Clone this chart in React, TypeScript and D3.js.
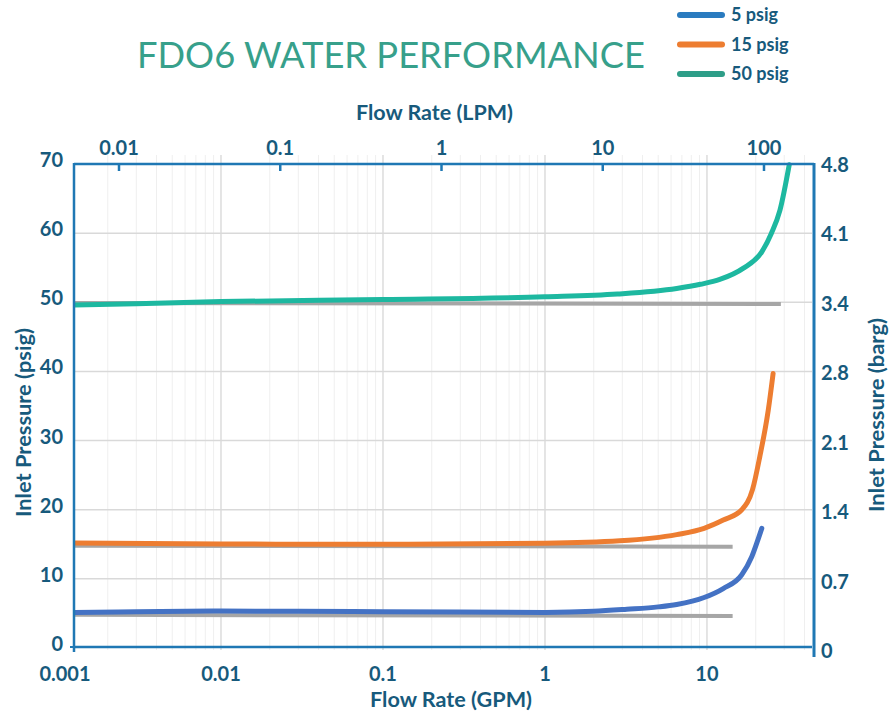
import React, { useEffect, useRef } from 'react';
import * as d3 from 'd3';

// 5 psig set point
const gpm5 = [0.00124, 0.003, 0.01, 0.03, 0.1, 0.3, 1, 2, 3.2, 5, 6.5, 9.6, 12.6, 16.4, 18.9, 20.6, 21.8];
const psi5 = [5.15, 5.25, 5.35, 5.3, 5.25, 5.2, 5.15, 5.3, 5.6, 5.95, 6.3, 7.3, 8.6, 10.6, 13.2, 15.6, 17.3];

// 15 psig set point
const gpm15 = [0.00124, 0.01, 0.1, 1, 2.9, 6.5, 9.6, 12.6, 16.4, 19.1, 21.2, 23.9, 25.6];
const psi15 = [15.2, 15.05, 15.0, 15.15, 15.5, 16.4, 17.3, 18.5, 20.0, 22.9, 27.7, 34.4, 39.7];

// 50 psig set point
const gpm50 = [0.00124, 0.003, 0.01, 0.1, 1, 2.8, 6.5, 9.1, 12, 16.7, 21.8, 25, 28.2, 32.2];
const psi50 = [49.6, 49.8, 50.1, 50.4, 50.8, 51.2, 52.0, 52.6, 53.3, 54.9, 57.3, 60.0, 63.3, 69.9];

// grey reference lines
const refGpm = [
  [0.00124, 14.4],
  [0.00124, 14.4],
  [0.00124, 28.6],
];
const refPsi = [
  [4.8, 4.63],
  [14.8, 14.65],
  [49.9, 49.75],
];

const psiTicks = [0, 10, 20, 30, 40, 50, 60, 70];
const bargLabels = ['0', '0.7', '1.4', '2.1', '2.8', '3.4', '4.1', '4.8'];
const gpmTicks = [0.001, 0.01, 0.1, 1, 10];
const lpmTicks = [0.01, 0.1, 1, 10, 100];

const seriesNames = ['5 psig', '15 psig', '50 psig'];
const lineColors = ['#4472c4', '#ed7d31', '#1db8a0'];
const legendColors = ['#2a7bbf', '#ed7d31', '#2e9e88'];

const W = 889;
const H = 713;
const FONT = 'Lato, "Open Sans", sans-serif';
const TXT = '#175a7c';
const AXIS = '#1f78b4';

const App: React.FC = () => {
  const svgRef = useRef<SVGSVGElement>(null);

  useEffect(() => {
    if (!svgRef.current) return;
    const svg = d3.select(svgRef.current);
    svg.selectAll('*').remove();

    const left = 74;
    const right = 812;
    const top = 164;
    const bottom = 648;

    const x = d3.scaleLog().domain([0.001, 44.5]).range([59, right]);
    const xTop = d3.scaleLog().domain([0.01, 100]).range([119, 764]);
    const y = d3.scaleLinear().domain([0, 70]).range([bottom, top]);
    const yRight = d3.scaleLinear().domain([0, 70]).range([651, 165]);

    // vertical grid (GPM decades + minors)
    const minors: number[] = [];
    [0.001, 0.01, 0.1, 1, 10].forEach((d) => {
      for (let k = 2; k <= 9; k++) {
        const v = d * k;
        if (v < 44.5) minors.push(v);
      }
    });
    svg
      .append('g')
      .selectAll('line')
      .data(minors)
      .enter()
      .append('line')
      .attr('x1', (d) => x(d))
      .attr('x2', (d) => x(d))
      .attr('y1', 155)
      .attr('y2', bottom + 2)
      .attr('stroke', '#efefef')
      .attr('stroke-width', 1);
    svg
      .append('g')
      .selectAll('line')
      .data(gpmTicks.slice(1))
      .enter()
      .append('line')
      .attr('x1', (d) => x(d))
      .attr('x2', (d) => x(d))
      .attr('y1', 155)
      .attr('y2', bottom + 2)
      .attr('stroke', '#dcdcdc')
      .attr('stroke-width', 1.5);

    // horizontal grid
    svg
      .append('g')
      .selectAll('line')
      .data(psiTicks.slice(1, -1))
      .enter()
      .append('line')
      .attr('x1', left)
      .attr('x2', right)
      .attr('y1', (d) => y(d))
      .attr('y2', (d) => y(d))
      .attr('stroke', '#d9d9d9')
      .attr('stroke-width', 1.5);

    svg
      .append('clipPath')
      .attr('id', 'plot-clip')
      .append('rect')
      .attr('x', left)
      .attr('y', top - 4)
      .attr('width', right - left)
      .attr('height', bottom - top + 4);

    const line = d3
      .line<[number, number]>()
      .x((d) => x(d[0]))
      .y((d) => y(d[1]))
      .curve(d3.curveMonotoneX);

    const plot = svg.append('g').attr('clip-path', 'url(#plot-clip)');

    // grey reference lines
    refGpm.forEach((g, i) => {
      const pts = g.map((v, j) => [v, refPsi[i][j]] as [number, number]);
      plot
        .append('path')
        .attr('d', line(pts) || '')
        .attr('fill', 'none')
        .attr('stroke', '#a6a6a6')
        .attr('stroke-width', 4);
    });

    const series = [
      { g: gpm5, p: psi5 },
      { g: gpm15, p: psi15 },
      { g: gpm50, p: psi50 },
    ];
    series.forEach((s, i) => {
      const pts = s.g.map((v, j) => [v, s.p[j]] as [number, number]);
      plot
        .append('path')
        .attr('d', line(pts) || '')
        .attr('fill', 'none')
        .attr('stroke', lineColors[i])
        .attr('stroke-width', 5)
        .attr('stroke-linecap', 'round');
    });

    // axes lines
    const ax = svg.append('g').attr('stroke', AXIS).attr('fill', 'none');
    ax.append('line').attr('x1', left).attr('x2', right).attr('y1', bottom - 1).attr('y2', bottom - 1).attr('stroke-width', 2.5);
    ax.append('line').attr('x1', left).attr('x2', right + 2).attr('y1', top).attr('y2', top).attr('stroke-width', 2.5);
    ax.append('line').attr('x1', left).attr('x2', left).attr('y1', top - 1).attr('y2', bottom + 4).attr('stroke-width', 2.5);
    ax.append('line').attr('x1', right + 2).attr('x2', right + 2).attr('y1', top - 1).attr('y2', 657).attr('stroke-width', 3);
    ax.append('line').attr('x1', left - 4).attr('x2', left).attr('y1', bottom - 1).attr('y2', bottom - 1).attr('stroke-width', 2);

    // top ticks (LPM)
    ax
      .selectAll('line.tt')
      .data(lpmTicks)
      .enter()
      .append('line')
      .attr('class', 'tt')
      .attr('x1', (d) => xTop(d))
      .attr('x2', (d) => xTop(d))
      .attr('y1', top)
      .attr('y2', top + 7)
      .attr('stroke-width', 2.5);

    const fmt = (d: number) => (d < 1 ? String(d) : d3.format('d')(d));

    const txt = svg.append('g').attr('font-family', FONT).attr('font-weight', 700).attr('fill', TXT);

    txt
      .selectAll('text.tl')
      .data(lpmTicks)
      .enter()
      .append('text')
      .attr('x', (d) => xTop(d))
      .attr('y', 155)
      .attr('text-anchor', 'middle')
      .attr('font-size', 20)
      .text(fmt);

    txt
      .selectAll('text.bl')
      .data(gpmTicks)
      .enter()
      .append('text')
      .attr('x', (d) => x(d))
      .attr('dx', (_d, i) => (i === 0 ? 6 : 0))
      .attr('y', 681)
      .attr('text-anchor', 'middle')
      .attr('font-size', 20)
      .text(fmt);

    txt
      .selectAll('text.ll')
      .data(psiTicks)
      .enter()
      .append('text')
      .attr('x', 63)
      .attr('y', (d) => y(d) - 4)
      .attr('dy', '0.35em')
      .attr('text-anchor', 'end')
      .attr('font-size', 20)
      .text((d) => String(d));

    txt
      .selectAll('text.rl')
      .data(psiTicks)
      .enter()
      .append('text')
      .attr('x', 821)
      .attr('y', (d) => yRight(d))
      .attr('dy', '0.35em')
      .attr('text-anchor', 'start')
      .attr('font-size', 20)
      .text((_d, i) => bargLabels[i]);

    // axis titles
    txt
      .append('text')
      .attr('x', 356)
      .attr('y', 120)
      .attr('font-size', 20)
      .attr('textLength', 157)
      .attr('lengthAdjust', 'spacingAndGlyphs')
      .text('Flow Rate (LPM)');
    txt
      .append('text')
      .attr('x', 370)
      .attr('y', 707)
      .attr('font-size', 20)
      .attr('textLength', 162)
      .attr('lengthAdjust', 'spacingAndGlyphs')
      .text('Flow Rate (GPM)');
    txt
      .append('text')
      .attr('transform', 'translate(31,517) rotate(-90)')
      .attr('font-size', 20)
      .attr('textLength', 189)
      .attr('lengthAdjust', 'spacingAndGlyphs')
      .text('Inlet Pressure (psig)');
    txt
      .append('text')
      .attr('transform', 'translate(884,512) rotate(-90)')
      .attr('font-size', 20)
      .attr('textLength', 194)
      .attr('lengthAdjust', 'spacingAndGlyphs')
      .text('Inlet Pressure (barg)');

    // title
    svg
      .append('text')
      .attr('x', 137)
      .attr('y', 68)
      .attr('font-family', FONT)
      .attr('font-weight', 400)
      .attr('font-size', 36)
      .attr('fill', '#37a08b')
      .attr('textLength', 508)
      .attr('lengthAdjust', 'spacingAndGlyphs')
      .text('FDO6 WATER PERFORMANCE');

    // legend
    const lg = svg.append('g');
    seriesNames.forEach((name, i) => {
      const ly = 15 + i * 29.5;
      lg.append('line')
        .attr('x1', 680)
        .attr('x2', 722)
        .attr('y1', ly)
        .attr('y2', ly)
        .attr('stroke', legendColors[i])
        .attr('stroke-width', 6)
        .attr('stroke-linecap', 'round');
      lg.append('text')
        .attr('x', 731)
        .attr('y', ly)
        .attr('dy', '0.35em')
        .attr('font-family', FONT)
        .attr('font-weight', 700)
        .attr('font-size', 18)
        .attr('fill', TXT)
        .text(name);
    });
  }, []);

  return (
    <svg
      ref={svgRef}
      width={W}
      height={H}
      style={{ position: 'absolute', left: 0, top: 0, background: '#fff' }}
    ></svg>
  );
};

export default App;
